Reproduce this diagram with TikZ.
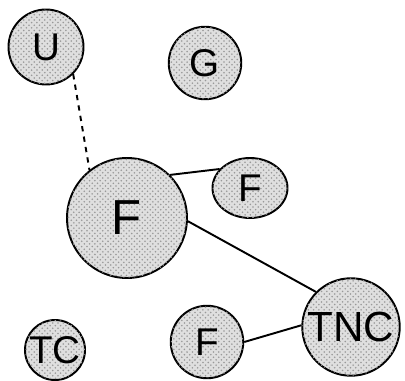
\documentclass[tikz,border=0pt]{standalone}
\usepackage{fontspec}
\setsansfont{Liberation Sans}
\usepackage{tikz}
\usetikzlibrary{shapes.geometric,patterns}

\begin{document}
\begin{tikzpicture}[x=0.02cm, y=-0.02cm,
	every node/.style={circle, draw, line width=1.1pt, fill=gray!25, postaction={pattern=crosshatch dots, pattern color=gray!80}, inner sep=0pt, font=\sffamily\fontsize{22}{22}\selectfont}]
	\useasboundingbox (0,0) rectangle (405,381);
	
	\node[minimum size=1.5cm] (u) at (46,47) {U};
	
	\node[minimum size=1.45cm] (g) at (205,63) {G};
	
	\node[minimum size=2.4cm, font=\sffamily\fontsize{28}{28}\selectfont] (f1) at (127,218) {F};
	
	\node[ellipse, minimum width=1.5cm, minimum height=1.2cm] (f2) at (250,188) {F};
	
	\node[minimum size=1.45cm] (f3) at (207,342) {F};
	
	\node[minimum size=1.95cm, font=\sffamily\fontsize{24}{24}\selectfont] (tnc) at (351,327) {TNC};
	
	\node[minimum size=1.2cm] (tc) at (55,350) {TC};
	
	\draw[line width=1.1pt, dashed] (u.-45) -- (f1.128);
	
	\draw[line width=1.1pt] (f1.45) -- (f2.148);
	
	\draw[line width=1.1pt] (f1.-3) -- (tnc.135);
	
	\draw[line width=1.1pt] (f3.east) -- (tnc.178);
\end{tikzpicture}
\end{document}
